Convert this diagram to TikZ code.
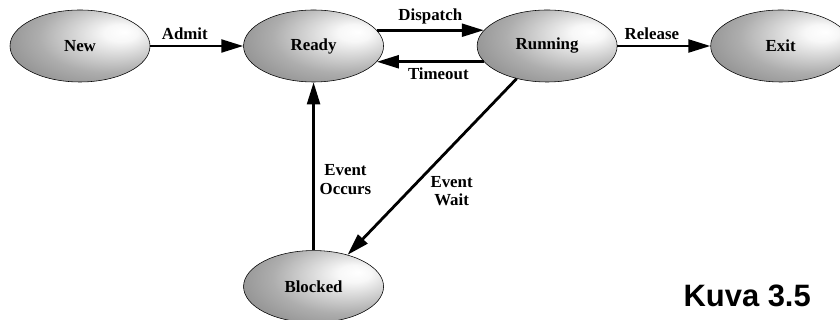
\documentclass[tikz,border=0pt]{standalone}
\usepackage{fontspec}
\setmainfont{Liberation Serif}
\newfontfamily\kuvafont{Liberation Sans}
\usetikzlibrary{shapes.geometric, arrows.meta, positioning}

\pgfdeclareradialshading{stateglow}{\pgfpoint{16bp}{10bp}}{%
  color(0bp)=(white); color(6bp)=(white!97!black); color(25bp)=(black!32); color(45bp)=(black!52); color(70bp)=(black!60)}

\begin{document}
\begin{tikzpicture}[
    node distance=4.2cm and 2.325cm,
    state/.style={ellipse, minimum width=3.5cm, minimum height=1.8cm, inner sep=0pt, draw=black, thin, shading=stateglow, font=\bfseries\fontsize{12}{13}\selectfont},
    arrow/.style={line width=2pt, -{Triangle[length=5.5mm, width=3.2mm]}},
    lbl/.style={font=\bfseries\fontsize{12}{13}\selectfont, align=center}
    ]
    \useasboundingbox (0,0) rectangle (21,8);

    % States
    \node (new) [state] at (2,6.85) {New};
    \node (ready) [state, right=of new] {Ready};
    \node (running) [state, right=of ready] {Running};
    \node (exit) [state, right=of running] {Exit};
    \node (blocked) [state, below=of ready] {Blocked};

    % Arrows
    \draw [arrow] (new) -- node[lbl, above, xshift=-3mm] {Admit} (ready);
    \draw [arrow] (ready.14) -- node[lbl, above] {Dispatch} (running.166);
    \draw [arrow] (running.194) -- node[lbl, below, xshift=2mm] {Timeout} (ready.-14);
    \draw [arrow] (running) -- node[lbl, above, xshift=-3mm] {Release} (exit);
    \draw [arrow] (blocked) -- node[lbl, right, pos=0.42] {Event\\Occurs} (ready);
    \draw [arrow] (running.227) -- node[lbl, right=4mm, pos=0.64] {Event\\Wait} (blocked.43);

    % Caption
    \node (kuva) at (18.68,0.6) {\kuvafont\bfseries\fontsize{22}{24}\selectfont Kuva 3.5};
\end{tikzpicture}
\end{document}
